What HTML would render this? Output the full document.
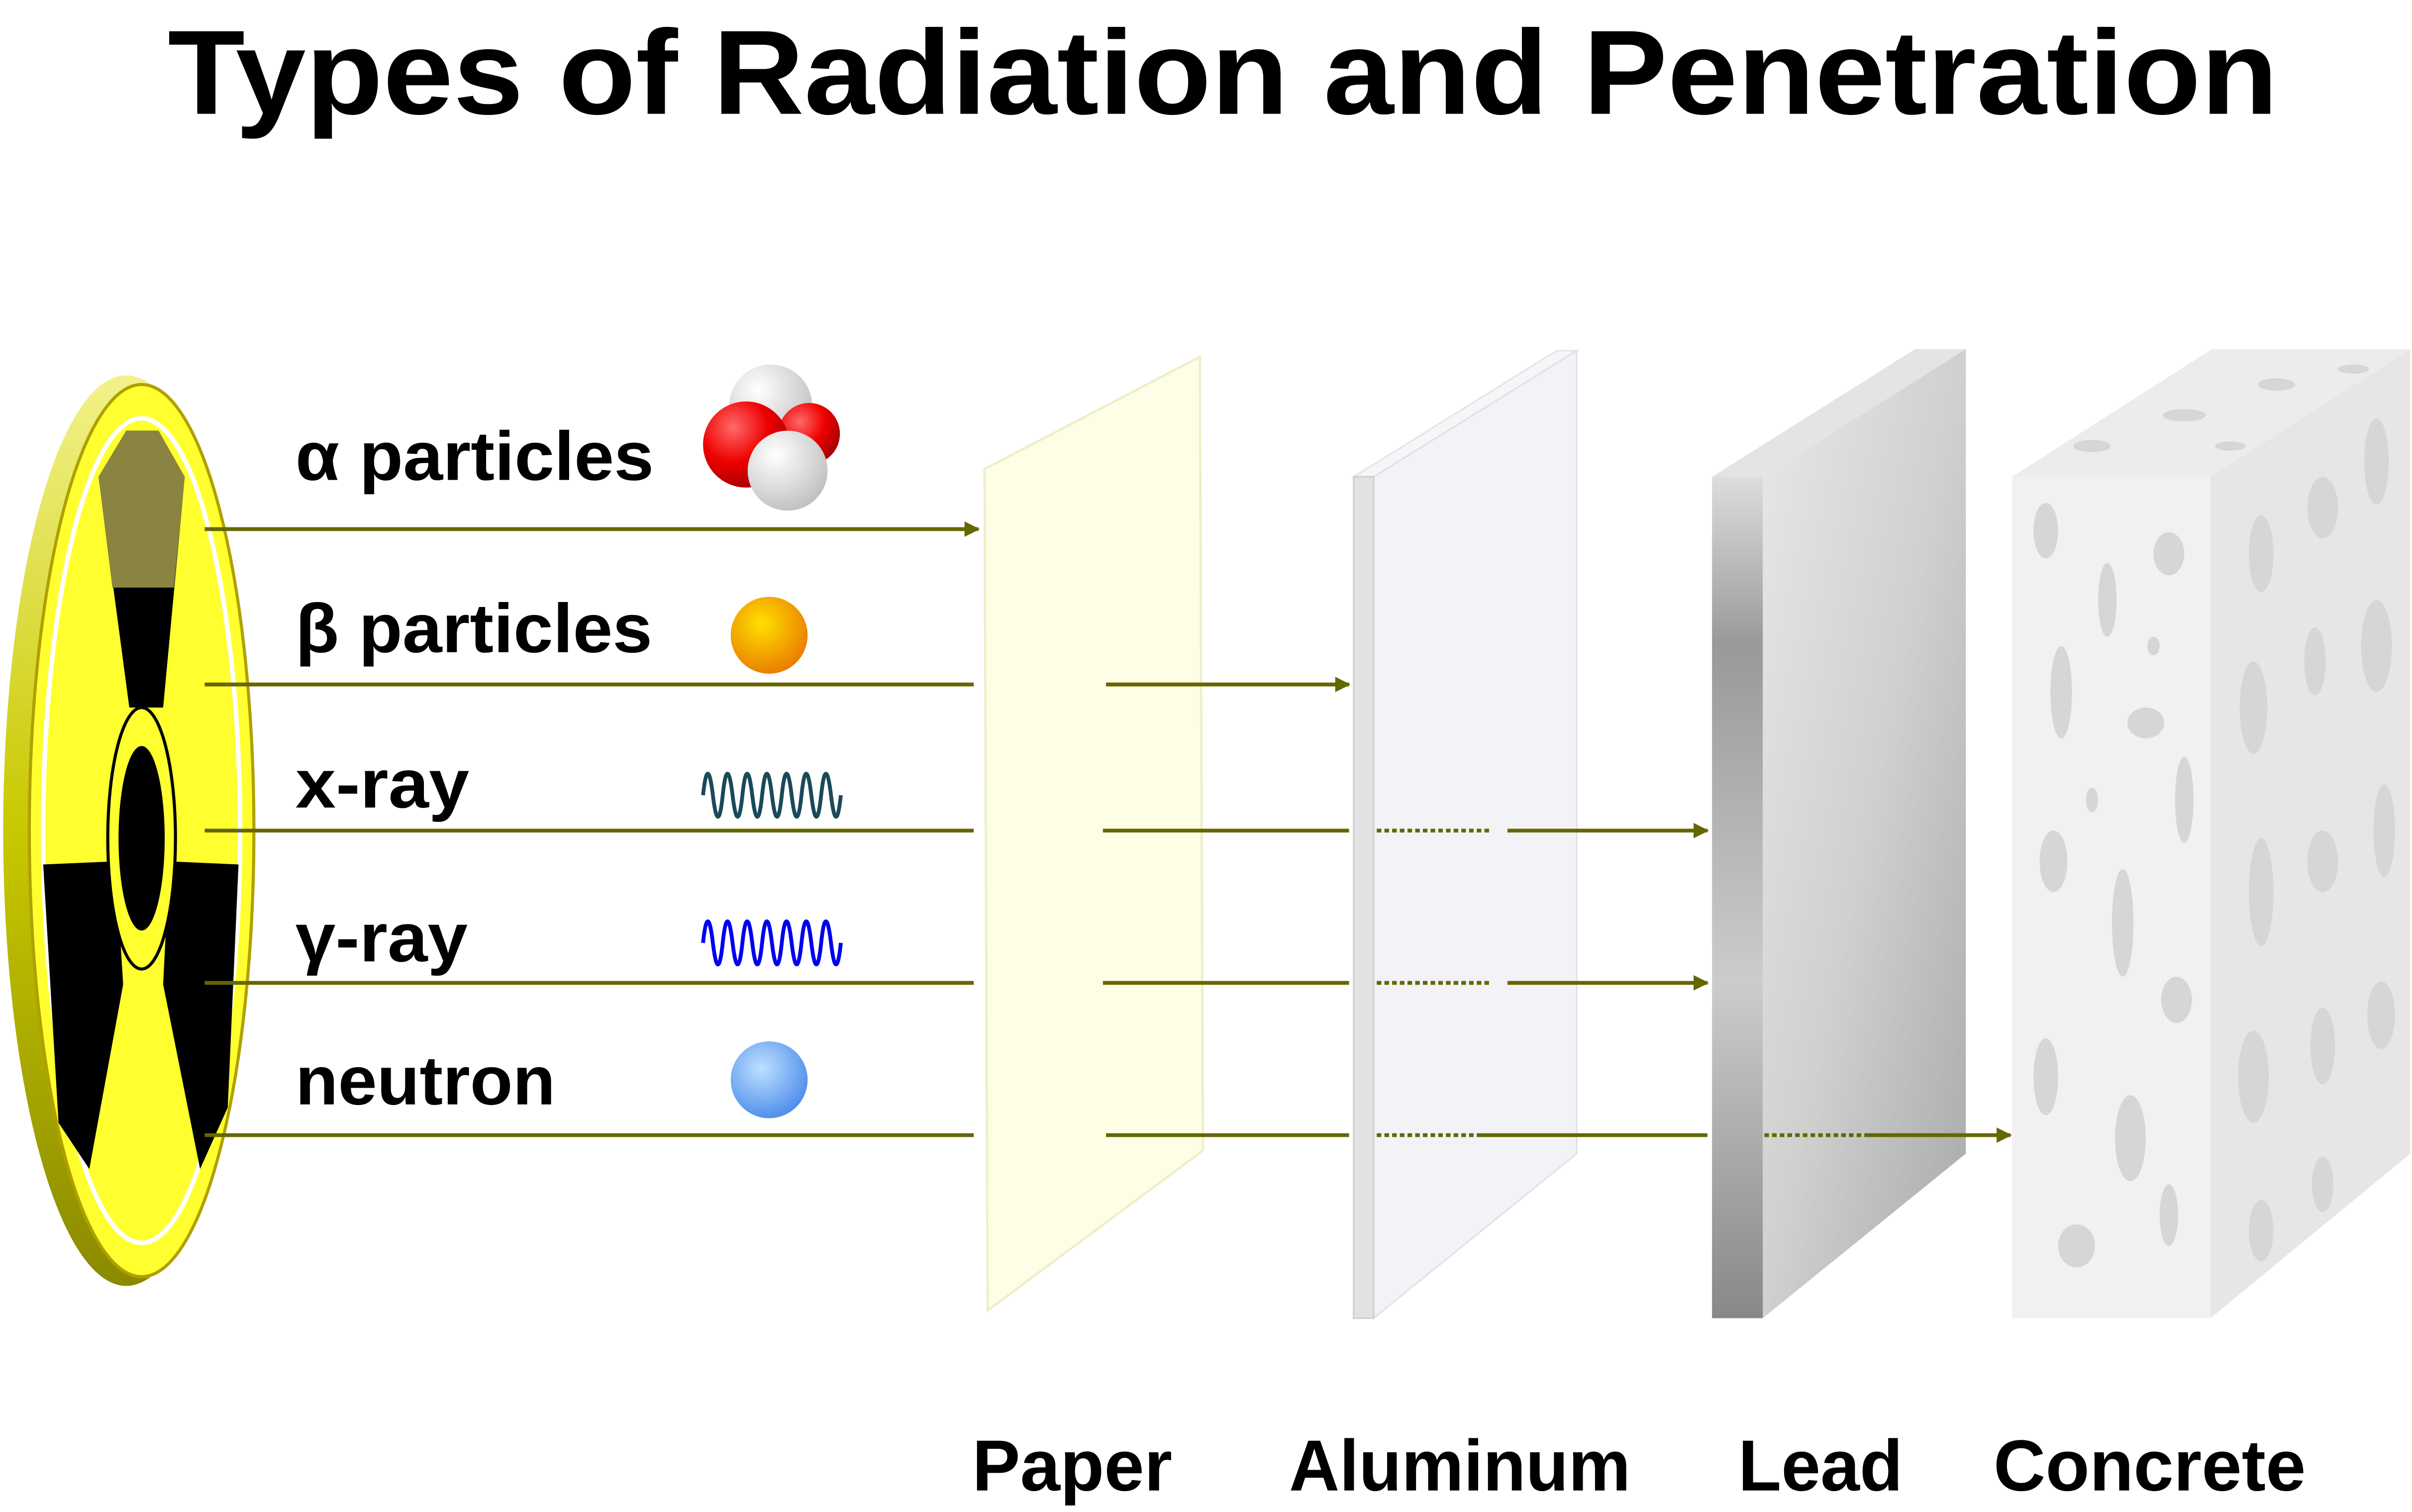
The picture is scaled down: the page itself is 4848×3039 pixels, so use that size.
<!DOCTYPE html>
<html><head><meta charset="utf-8"><style>html,body{margin:0;padding:0;background:#fff}svg{display:block}</style></head>
<body>
<svg width="4848" height="3039" viewBox="0 0 1568 983" xmlns="http://www.w3.org/2000/svg" font-family="Liberation Sans, Arial, sans-serif">
<defs>
<radialGradient id="gw" cx="0.35" cy="0.3" r="0.8"><stop offset="0" stop-color="#fff"/><stop offset="1" stop-color="#bbb"/></radialGradient>
<radialGradient id="gr" cx="0.35" cy="0.3" r="0.8"><stop offset="0" stop-color="#ff6a6a"/><stop offset="0.5" stop-color="#e00"/><stop offset="1" stop-color="#900"/></radialGradient>
<radialGradient id="go" cx="0.4" cy="0.35" r="0.8"><stop offset="0" stop-color="#ffe000"/><stop offset="1" stop-color="#e56a00"/></radialGradient>
<radialGradient id="gb" cx="0.4" cy="0.35" r="0.8"><stop offset="0" stop-color="#bde0ff"/><stop offset="1" stop-color="#3a7ee8"/></radialGradient>
<linearGradient id="rim" x1="0" y1="0" x2="0" y2="1"><stop offset="0" stop-color="#f2f28a"/><stop offset="0.5" stop-color="#c8c800"/><stop offset="1" stop-color="#8a8a00"/></linearGradient>
<linearGradient id="lead" x1="0" y1="0" x2="1" y2="1"><stop offset="0" stop-color="#e8e8e8"/><stop offset="0.5" stop-color="#d0d0d0"/><stop offset="1" stop-color="#a8a8a8"/></linearGradient>
<linearGradient id="leadE" x1="0" y1="0" x2="0" y2="1"><stop offset="0" stop-color="#ddd"/><stop offset="0.2" stop-color="#999"/><stop offset="0.6" stop-color="#ccc"/><stop offset="1" stop-color="#888"/></linearGradient>
<marker id="ar" markerWidth="10" markerHeight="10" refX="9" refY="5" orient="auto" markerUnits="userSpaceOnUse" viewBox="0 0 10 10"><path d="M0,0 L10,5 L0,10 z" fill="#666600"/></marker>
</defs>

<text x="795" y="74" font-size="78" font-weight="bold" text-anchor="middle" textLength="1372" lengthAdjust="spacingAndGlyphs">Types of Radiation and Penetration</text>

<!-- radiation disk -->
<ellipse cx="82" cy="540" rx="80" ry="296" fill="url(#rim)"/>
<ellipse cx="92" cy="540" rx="73" ry="290" fill="#ffff30" stroke="#b0a000" stroke-width="2"/>
<ellipse cx="92" cy="540" rx="64" ry="268" fill="none" stroke="#fff" stroke-width="3"/>
<path d="M64,310 L82,280 L103,280 L120,310 L106,460 L84,460 Z" fill="#000"/>
<path d="M64,310 L82,280 L103,280 L120,310 L113,382 L73,382 Z" fill="#8a8440"/>
<path d="M28,562 L75,560 L80,640 L58,760 L38,730 Z" fill="#000"/>
<path d="M110,560 L155,562 L148,720 L130,760 L106,640 Z" fill="#000"/>
<ellipse cx="92" cy="545" rx="22" ry="85" fill="#ffff30" stroke="#000" stroke-width="2"/>
<ellipse cx="92" cy="545" rx="15" ry="60" fill="#000"/>

<!-- labels -->
<g font-size="45" font-weight="bold" fill="#000" lengthAdjust="spacingAndGlyphs">
<text x="192" y="312" textLength="233" lengthAdjust="spacingAndGlyphs">α particles</text>
<text x="192" y="424" textLength="232" lengthAdjust="spacingAndGlyphs">β particles</text>
<text x="192" y="525" textLength="113" lengthAdjust="spacingAndGlyphs">x-ray</text>
<text x="192" y="625" textLength="112" lengthAdjust="spacingAndGlyphs">γ-ray</text>
<text x="192" y="718" textLength="169" lengthAdjust="spacingAndGlyphs">neutron</text>
</g>

<!-- icons -->
<circle cx="501" cy="264" r="27" fill="url(#gw)"/>
<circle cx="526" cy="282" r="20" fill="url(#gr)"/>
<circle cx="485" cy="289" r="28" fill="url(#gr)"/>
<circle cx="512" cy="306" r="26" fill="url(#gw)"/>
<circle cx="500" cy="413" r="25" fill="url(#go)"/>
<circle cx="500" cy="702" r="25" fill="url(#gb)"/>
<path d="M457,517 q3,-28 6.4,0 t6.4,0 t6.4,0 t6.4,0 t6.4,0 t6.4,0 t6.4,0 t6.4,0 t6.4,0 t6.4,0 t6.4,0 t6.4,0 t6.4,0 t6.4,0" fill="none" stroke="#1a4a5a" stroke-width="2.5"/>
<path d="M457,613 q3,-28 6.4,0 t6.4,0 t6.4,0 t6.4,0 t6.4,0 t6.4,0 t6.4,0 t6.4,0 t6.4,0 t6.4,0 t6.4,0 t6.4,0 t6.4,0 t6.4,0" fill="none" stroke="#0000ee" stroke-width="2.5"/>

<!-- paper -->
<polygon points="640,305 780,232 782,748 642,852" fill="#fefee6" stroke="#eeeec8" stroke-width="1.5"/>
<!-- aluminum -->
<polygon points="880,310 893,310 1025,228 1012,228" fill="#f6f6f8" stroke="#e4e4e8"/>
<polygon points="893,310 1025,228 1025,750 893,857" fill="#f2f2f7" stroke="#e0e0e6"/>
<rect x="880" y="310" width="13" height="547" fill="#e2e2e2" stroke="#cfcfcf"/>
<!-- lead -->
<polygon points="1113,310 1146,310 1278,227 1245,227" fill="#e4e4e4"/>
<polygon points="1146,310 1278,227 1278,750 1146,857" fill="url(#lead)"/>
<rect x="1113" y="310" width="33" height="547" fill="url(#leadE)"/>
<!-- concrete -->
<polygon points="1308,310 1437,310 1567,227 1438,227" fill="#ececec"/>
<polygon points="1437,310 1567,227 1567,750 1437,857" fill="#e6e6e6"/>
<rect x="1308" y="310" width="129" height="547" fill="#f1f1f1"/>
<g fill="#d6d6d6">
<ellipse cx="1330" cy="345" rx="8" ry="18"/><ellipse cx="1370" cy="390" rx="6" ry="24"/><ellipse cx="1410" cy="360" rx="10" ry="14"/>
<ellipse cx="1340" cy="450" rx="7" ry="30"/><ellipse cx="1395" cy="470" rx="12" ry="10"/><ellipse cx="1420" cy="520" rx="6" ry="28"/>
<ellipse cx="1335" cy="560" rx="9" ry="20"/><ellipse cx="1380" cy="600" rx="7" ry="35"/><ellipse cx="1415" cy="650" rx="10" ry="15"/>
<ellipse cx="1330" cy="700" rx="8" ry="25"/><ellipse cx="1385" cy="740" rx="10" ry="28"/><ellipse cx="1350" cy="810" rx="12" ry="14"/>
<ellipse cx="1410" cy="790" rx="6" ry="20"/><ellipse cx="1360" cy="520" rx="4" ry="8"/><ellipse cx="1400" cy="420" rx="4" ry="6"/>
<ellipse cx="1470" cy="360" rx="8" ry="25"/><ellipse cx="1510" cy="330" rx="10" ry="20"/><ellipse cx="1545" cy="300" rx="8" ry="28"/>
<ellipse cx="1465" cy="460" rx="9" ry="30"/><ellipse cx="1505" cy="430" rx="7" ry="22"/><ellipse cx="1545" cy="420" rx="10" ry="30"/>
<ellipse cx="1470" cy="580" rx="8" ry="35"/><ellipse cx="1510" cy="560" rx="10" ry="20"/><ellipse cx="1550" cy="540" rx="7" ry="30"/>
<ellipse cx="1465" cy="700" rx="10" ry="30"/><ellipse cx="1510" cy="680" rx="8" ry="25"/><ellipse cx="1548" cy="660" rx="9" ry="22"/>
<ellipse cx="1470" cy="800" rx="8" ry="20"/><ellipse cx="1510" cy="770" rx="7" ry="18"/>
<ellipse cx="1360" cy="290" rx="12" ry="4"/><ellipse cx="1420" cy="270" rx="14" ry="4"/><ellipse cx="1480" cy="250" rx="12" ry="4"/><ellipse cx="1530" cy="240" rx="10" ry="3"/><ellipse cx="1450" cy="290" rx="10" ry="3"/>
</g>

<!-- connectors -->
<g stroke="#666600" stroke-width="2.5" fill="none">
<line x1="133" y1="344" x2="636" y2="344" marker-end="url(#ar)"/>
<line x1="133" y1="445" x2="633" y2="445"/>
<line x1="719" y1="445" x2="877" y2="445" marker-end="url(#ar)"/>
<line x1="133" y1="540" x2="633" y2="540"/>
<line x1="717" y1="540" x2="877" y2="540"/>
<line x1="895" y1="540" x2="970" y2="540" stroke-dasharray="3,2"/>
<line x1="980" y1="540" x2="1110" y2="540" marker-end="url(#ar)"/>
<line x1="133" y1="639" x2="633" y2="639"/>
<line x1="717" y1="639" x2="877" y2="639"/>
<line x1="895" y1="639" x2="970" y2="639" stroke-dasharray="3,2"/>
<line x1="980" y1="639" x2="1110" y2="639" marker-end="url(#ar)"/>
<line x1="133" y1="738" x2="633" y2="738"/>
<line x1="719" y1="738" x2="877" y2="738"/>
<line x1="895" y1="738" x2="960" y2="738" stroke-dasharray="3,2"/>
<line x1="960" y1="738" x2="1110" y2="738"/>
<line x1="1147" y1="738" x2="1215" y2="738" stroke-dasharray="3,2"/>
<line x1="1215" y1="738" x2="1307" y2="738" marker-end="url(#ar)"/>
</g>

<g font-size="47" font-weight="bold" fill="#000">
<text x="632" y="969" textLength="130" lengthAdjust="spacingAndGlyphs">Paper</text>
<text x="838" y="969" textLength="222" lengthAdjust="spacingAndGlyphs">Aluminum</text>
<text x="1130" y="969" textLength="107" lengthAdjust="spacingAndGlyphs">Lead</text>
<text x="1296" y="969" textLength="203" lengthAdjust="spacingAndGlyphs">Concrete</text>
</g>
</svg>
</body></html>
